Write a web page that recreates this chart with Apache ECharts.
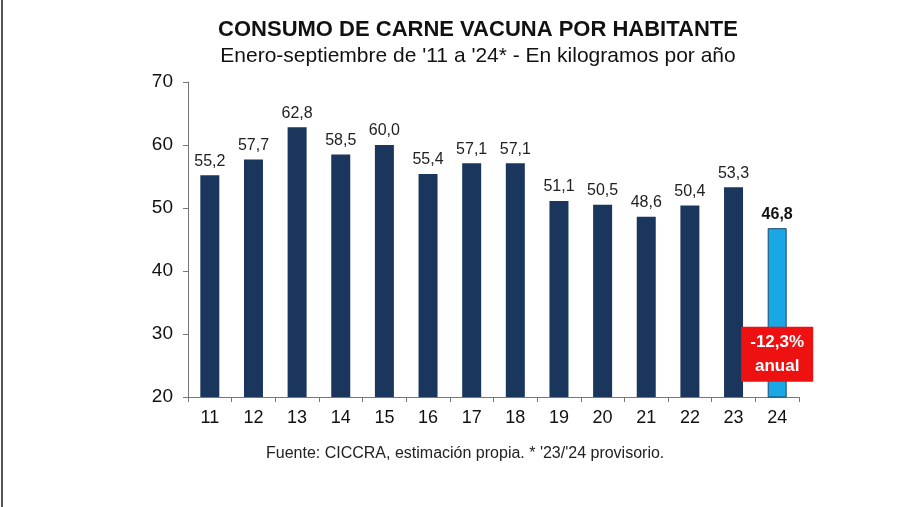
<!DOCTYPE html>
<html>
<head>
<meta charset="utf-8">
<script src="https://cdn.jsdelivr.net/npm/echarts@6/dist/echarts.min.js"></script>
<style>
  html, body { margin: 0; padding: 0; background: #fff; }
  #chart { width: 900px; height: 507px; }
</style>
</head>
<body>
<div id="chart"></div>
<script>
  const years = ['11', '12', '13', '14', '15', '16', '17', '18', '19', '20', '21', '22', '23', '24'];
  const consumo = [55.2, 57.7, 62.8, 58.5, 60.0, 55.4, 57.1, 57.1, 51.1, 50.5, 48.6, 50.4, 53.3, 46.8];
  const yTicks = [20, 30, 40, 50, 60, 70];
  const variacion = '-12,3%';

  const navy = '#1b365d';
  const lightBlue = '#1aa7e6';

  const fmt = (v) => v.toFixed(1).replace('.', ',');

  const barData = consumo.map((v, i) => {
    const last = i === consumo.length - 1;
    return {
      value: v,
      itemStyle: last ? { color: lightBlue, borderColor: '#1d4a6e', borderWidth: 1 } : { color: navy },
      label: last ? { fontWeight: 'bold', color: '#111' } : {}
    };
  });

  const chart = echarts.init(document.getElementById('chart'));

  chart.setOption({
    animation: false,
    backgroundColor: '#fff',
    textStyle: { fontFamily: 'Liberation Sans, Arial, sans-serif' },
    title: {
      text: 'CONSUMO DE CARNE VACUNA POR HABITANTE',
      subtext: "Enero-septiembre de '11 a '24* - En kilogramos por año",
      left: 473,
      textAlign: 'center',
      top: 14,
      itemGap: 5,
      textStyle: { fontSize: 22, fontWeight: 'bold', color: '#111', fontFamily: 'Liberation Sans, Arial' },
      subtextStyle: { fontSize: 21, color: '#111', fontFamily: 'Liberation Sans, Arial' }
    },
    graphic: [
      { type: 'line', shape: { x1: 2, y1: 0, x2: 2, y2: 507 }, style: { stroke: '#555', lineWidth: 2 } },
      {
        type: 'text', left: 266, top: 446,
        style: { text: "Fuente: CICCRA, estimación propia. * '23/'24 provisorio.", fontSize: 16, fill: '#222', fontFamily: 'Liberation Sans, Arial' }
      }
    ],
    grid: { left: 188, right: 101, top: 82, bottom: 110 },
    xAxis: {
      type: 'category',
      data: years,
      axisLine: { lineStyle: { color: '#777' } },
      axisTick: { show: true, alignWithLabel: false, length: 5, lineStyle: { color: '#777' } },
      axisLabel: { fontSize: 18, color: '#111', margin: 12 }
    },
    yAxis: {
      type: 'value',
      min: 20,
      max: 70,
      interval: 10,
      splitLine: { show: false },
      axisLine: { show: true, lineStyle: { color: '#777' } },
      axisTick: { show: true, length: 5, lineStyle: { color: '#777' } },
      axisLabel: {
        fontSize: 19, color: '#111', margin: 15,
        formatter: (v) => (yTicks.includes(v) ? String(v) : '')
      }
    },
    series: [{
      type: 'bar',
      data: barData,
      barWidth: 19,
      label: {
        show: true,
        position: 'top',
        distance: 6,
        fontSize: 16,
        color: '#222',
        formatter: (p) => fmt(p.value)
      },
      markPoint: {
        symbol: 'rect',
        symbolSize: [72, 55],
        itemStyle: { color: '#ee1111' },
        label: {
          show: true,
          color: '#fff',
          fontWeight: 'bold',
          fontSize: 17,
          lineHeight: 24,
          formatter: variacion + '\nanual'
        },
        data: [{ coord: ['24', 26.8] }]
      }
    }]
  });
</script>
</body>
</html>
